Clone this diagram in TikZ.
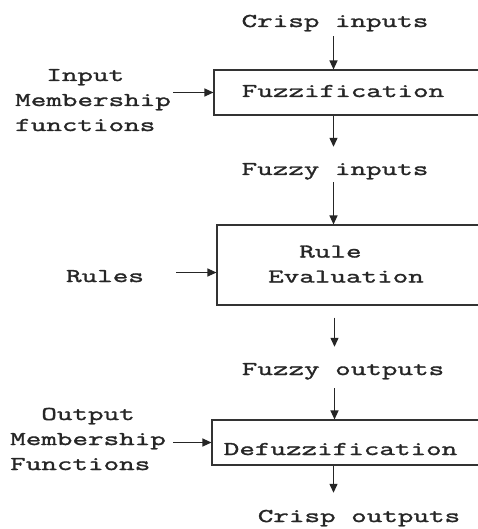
\documentclass[tikz,border=0pt]{standalone}
\usepackage{fontspec}
\newfontfamily\mono[FakeStretch=1.55,FakeBold=1.6]{Latin Modern Mono}
\usetikzlibrary{arrows.meta}
\begin{document}
\begin{tikzpicture}[x=1pt,y=-1pt,
  every node/.style={font={\mono\fontsize{19.5}{25}\selectfont}, inner sep=0pt, text=black!85},
  lbl/.style={text height=13pt, text depth=4pt},
  multi/.style={align=left},
  procbox/.style={draw=black!80, line width=1.1pt},
  arr/.style={draw=black!85, line width=1.2pt, -{Triangle[length=9pt,width=8pt]}}]
\useasboundingbox (0,0) rectangle (478,529);
\clip (0,0) rectangle (478,529);
\fill[white] (0,0) rectangle (478,529);
\coordinate (ax) at (333.5,0);
\coordinate (bx) at (334.5,0);
% texts
\node[lbl] (crispin) at (335,22.5) {Crisp inputs};
\node[lbl] (fuzzyin) at (335,170.5) {Fuzzy inputs};
\node[lbl] (fuzzyout) at (343,370.5) {Fuzzy outputs};
\node[lbl] (crispout) at (359,517.5) {Crisp outputs};
\node[lbl] (rules) at (105,277.5) {Rules};
\node[multi, anchor=west] (inmf) at (15,101) {\strut\ \ Input\\\strut Membership\\\strut functions};
\node[multi, anchor=west] (outmf) at (10,440) {\strut\ \ Output\\\strut Membership\\\strut Functions};
% boxes
\node[procbox, lbl, minimum width=276pt, minimum height=45pt] (fuzz) at (352,92.5) {Fuzzification\hspace*{18pt}};
\node[procbox, multi, minimum width=273pt, minimum height=80pt] (rulebox) at (353.5,265) {\strut\ \ Rule\\\strut Evaluation\hspace*{15pt}};
\node[procbox, text height=27pt, text depth=2pt, minimum width=278pt, minimum height=45pt] (defuzz) at (351,442.5) {Defuzzification\hspace*{21pt}};
% vertical connectors
\draw[arr, shorten <=5pt] (ax |- crispin.south) -- (ax |- fuzz.north);
\draw[arr, shorten >=15pt] (ax |- fuzz.south) -- (ax |- fuzzyin.north);
\draw[arr, shorten <=3pt] (ax |- fuzzyin.south) -- (ax |- rulebox.north);
\draw[arr, shorten <=12pt, shorten >=15pt] (bx |- rulebox.south) -- (bx |- fuzzyout.north);
\draw[arr, shorten <=9pt] (bx |- fuzzyout.south) -- (bx |- defuzz.north);
\draw[arr, shorten >=16pt] (ax |- defuzz.south) -- (ax |- crispout.north);
% horizontal connectors
\draw[arr, shorten <=2pt] (inmf.east |- fuzz.west) -- (fuzz.west);
\draw[arr, shorten <=32pt] ([yshift=5pt]rules.east) -- ([yshift=5pt]rules.east -| rulebox.west);
\draw[arr, shorten <=7pt] (outmf.east |- defuzz.west) -- (defuzz.west);
\end{tikzpicture}
\end{document}
